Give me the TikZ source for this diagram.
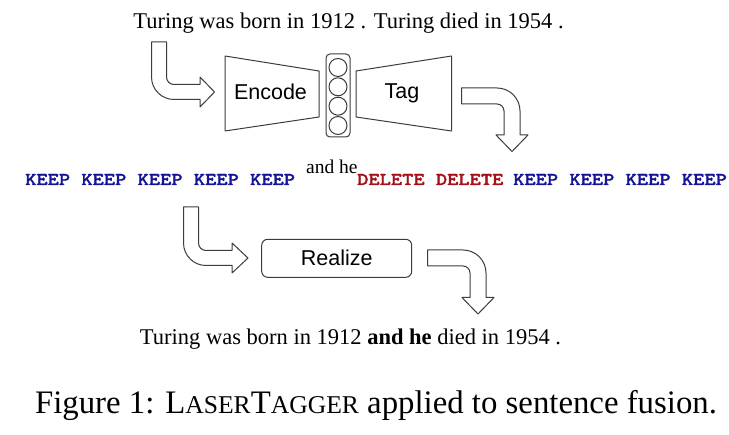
\documentclass[tikz,border=0pt]{standalone}
\usepackage{fontspec}
\setmainfont{Liberation Serif}
\setsansfont{Liberation Sans}
\newfontfamily\tagfont{lmmonolt10-bold.otf}[FakeStretch=1.19,FakeBold=1.6]
\definecolor{keepc}{RGB}{20,20,150}
\definecolor{delc}{RGB}{165,15,25}
\definecolor{linec}{RGB}{60,60,60}
\tikzset{
 shape line/.style={draw=linec, line width=1pt, line join=round, fill=white},
 blocktext/.style={font=\sffamily\fontsize{21.5}{21.5}\selectfont, inner sep=0pt},
 serif text/.style={font=\fontsize{22.5}{22.5}\selectfont, inner sep=0pt, anchor=base},
 tagword/.style={font=\tagfont\fontsize{18}{18}\selectfont, inner sep=0pt, anchor=base west},
}
\begin{document}
\begin{tikzpicture}[x=1pt,y=-1pt]
\useasboundingbox (0,0) rectangle (729,435);
\node[serif text] (src) at (348.5,28.3) {Turing was born in 1912 . Turing died in 1954 .};
% arrow into encoder
\draw[shape line] (151.5,42) -- (151.5,77) arc[start angle=180,end angle=90,radius=22.5]
  -- (200,99.5) -- (200,107) -- (214.5,92) -- (200,77) -- (200,84.5) -- (174,84.5)
  arc[start angle=90,end angle=180,radius=7.5] -- (166.5,42) -- cycle;
% encoder
\draw[shape line] (225,56) -- (319,71) -- (319,117) -- (225,131) -- cycle;
\node[blocktext] (encode) at (270.5,92) {Encode};
% hidden state stack
\draw[shape line, rounded corners=4pt] (326,54) rectangle (350,137);
\foreach \cy in {67.5,86.8,106.2,125.5}
  \draw[shape line] (338,\cy) circle[radius=9];
% tagger
\draw[shape line] (356,71) -- (451.5,56) -- (451.5,131) -- (356,117) -- cycle;
\node[blocktext] (tag) at (402,93) {Tag};
% arrow out of tagger
\draw[shape line] (461.5,88) -- (497,88) arc[start angle=270,end angle=360,radius=23]
  -- (520,135) -- (528,135) -- (512,151.5) -- (496,135) -- (504,135) -- (504,111)
  arc[start angle=0,end angle=-90,radius=7] -- (461.5,104) -- cycle;
% tags
\node[tagword, text=keepc] (keep1) at (25,185) {KEEP KEEP KEEP KEEP KEEP};
\node[anchor=base west, inner sep=0pt, font=\fontsize{19.5}{19.5}\selectfont] (ins) at (306,173.3) {and he};
\node[tagword, text=delc] (del) at (357,185) {DELETE DELETE};
\node[tagword, text=keepc] (keep2) at (513,185) {KEEP KEEP KEEP KEEP};
% arrow into realizer
\draw[shape line] (183.5,207) -- (183.5,243) arc[start angle=180,end angle=90,radius=22.5]
  -- (232,265.5) -- (232,273) -- (248,258) -- (232,243) -- (232,250.5) -- (206,250.5)
  arc[start angle=90,end angle=180,radius=7.5] -- (198.5,207) -- cycle;
\node[draw=linec, line width=1pt, rounded corners=6pt, minimum width=150pt, minimum height=38pt, blocktext] (realize) at (336.7,258.3) {Realize};
% arrow out of realizer
\draw[shape line] (427.5,250) -- (463,250) arc[start angle=270,end angle=360,radius=23]
  -- (486,297.5) -- (494,297.5) -- (478,314) -- (462,297.5) -- (470,297.5) -- (470,273)
  arc[start angle=0,end angle=-90,radius=7] -- (427.5,266) -- cycle;
\node[serif text] (out) at (350.5,345) {Turing was born in 1912 \textbf{and he} died in 1954 .};
\node[anchor=base, inner sep=0pt, font=\fontsize{32.8}{32.8}\selectfont] (cap) at (376,414) {Figure 1: L{\fontsize{25.6}{25.6}\selectfont ASER}T{\fontsize{25.6}{25.6}\selectfont AGGER} applied to sentence fusion.};
\end{tikzpicture}
\end{document}
